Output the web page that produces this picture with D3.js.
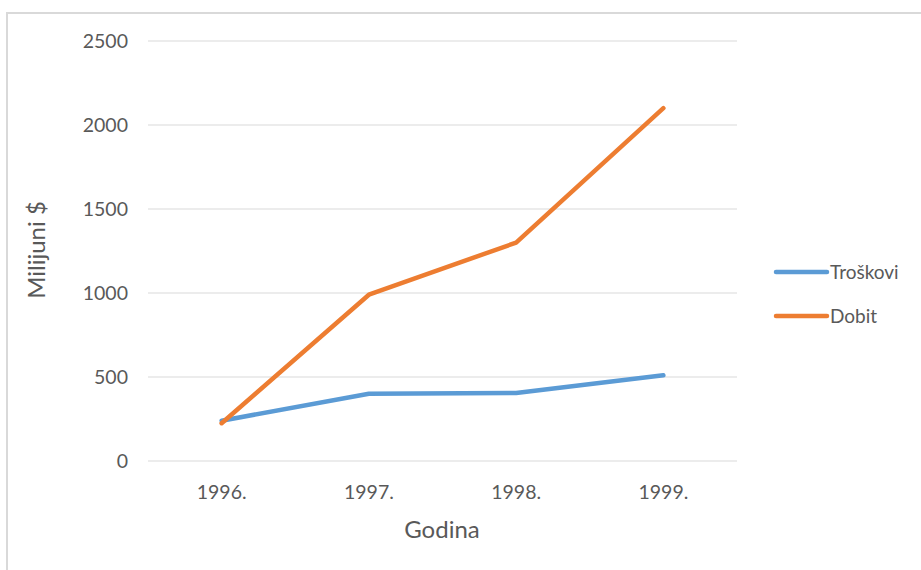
<!DOCTYPE html>
<html>
<head>
<meta charset="utf-8">
<script src="https://cdn.jsdelivr.net/npm/d3@7"></script>
<style>
  body { margin: 0; background: #fff; }
  svg { display: block; }
  text { font-family: Lato, "Open Sans", sans-serif; fill: #595959; }
</style>
</head>
<body>
<svg id="chart" width="921" height="570"></svg>
<script>
// chart data
var years = ['1996.', '1997.', '1998.', '1999.'];
var troskovi = [240, 400, 405, 510];
var dobit = [225, 990, 1300, 2100];
var seriesNames = ['Troškovi', 'Dobit'];
var seriesColors = ['#5b9bd5', '#ed7d31'];
var yTicks = [0, 500, 1000, 1500, 2000, 2500];

var svg = d3.select('#chart');

// chart frame
svg.append('rect')
    .attr('x', 7).attr('y', 13)
    .attr('width', 930).attr('height', 580)
    .attr('fill', 'none')
    .attr('stroke', '#d9d9d9')
    .attr('stroke-width', 2);

var plot = { left: 148, right: 737, top: 41, bottom: 461 };

var x = d3.scaleBand()
    .domain(years)
    .range([plot.left, plot.right]);

var y = d3.scaleLinear()
    .domain([0, 2500])
    .range([plot.bottom, plot.top]);

// gridlines
svg.append('g')
    .selectAll('line')
    .data(yTicks)
    .enter().append('line')
    .attr('x1', plot.left).attr('x2', plot.right)
    .attr('y1', function(d) { return y(d); })
    .attr('y2', function(d) { return y(d); })
    .attr('stroke', '#d9d9d9')
    .attr('stroke-width', 1);

// y tick labels
svg.append('g')
    .selectAll('text')
    .data(yTicks)
    .enter().append('text')
    .attr('x', 128)
    .attr('y', function(d) { return y(d); })
    .attr('dy', '0.35em')
    .style('text-anchor', 'end')
    .style('font-size', '19.5px')
    .text(function(d) { return d; });

// x tick labels
svg.append('g')
    .selectAll('text')
    .data(years)
    .enter().append('text')
    .attr('x', function(d) { return x(d) + x.bandwidth() / 2; })
    .attr('y', 492)
    .attr('dy', '0.35em')
    .style('text-anchor', 'middle')
    .style('font-size', '19.5px')
    .text(function(d) { return d; });

// axis titles
svg.append('text')
    .attr('x', 442).attr('y', 530)
    .attr('dy', '0.35em')
    .style('text-anchor', 'middle')
    .style('font-size', '24px')
    .text('Godina');

svg.append('text')
    .attr('transform', 'translate(37,250) rotate(-90)')
    .attr('dy', '0.35em')
    .style('text-anchor', 'middle')
    .style('font-size', '24px')
    .text('Milijuni $');

// lines
var line = d3.line()
    .x(function(d, i) { return x(years[i]) + x.bandwidth() / 2; })
    .y(function(d) { return y(d); });

var allSeries = [troskovi, dobit];
svg.append('g')
    .selectAll('path')
    .data(allSeries)
    .enter().append('path')
    .attr('d', line)
    .attr('fill', 'none')
    .attr('stroke', function(d, i) { return seriesColors[i]; })
    .attr('stroke-width', 4.5)
    .attr('stroke-linecap', 'round')
    .attr('stroke-linejoin', 'round');

// legend
var legend = svg.append('g')
    .selectAll('g')
    .data(seriesNames)
    .enter().append('g')
    .attr('transform', function(d, i) { return 'translate(776,' + (272 + i * 44) + ')'; });

legend.append('line')
    .attr('x1', 0).attr('x2', 51)
    .attr('stroke', function(d, i) { return seriesColors[i]; })
    .attr('stroke-width', 4.5)
    .attr('stroke-linecap', 'round');

legend.append('text')
    .attr('x', 54)
    .attr('dy', '0.35em')
    .style('font-size', '19px')
    .text(function(d) { return d; });
</script>
</body>
</html>
